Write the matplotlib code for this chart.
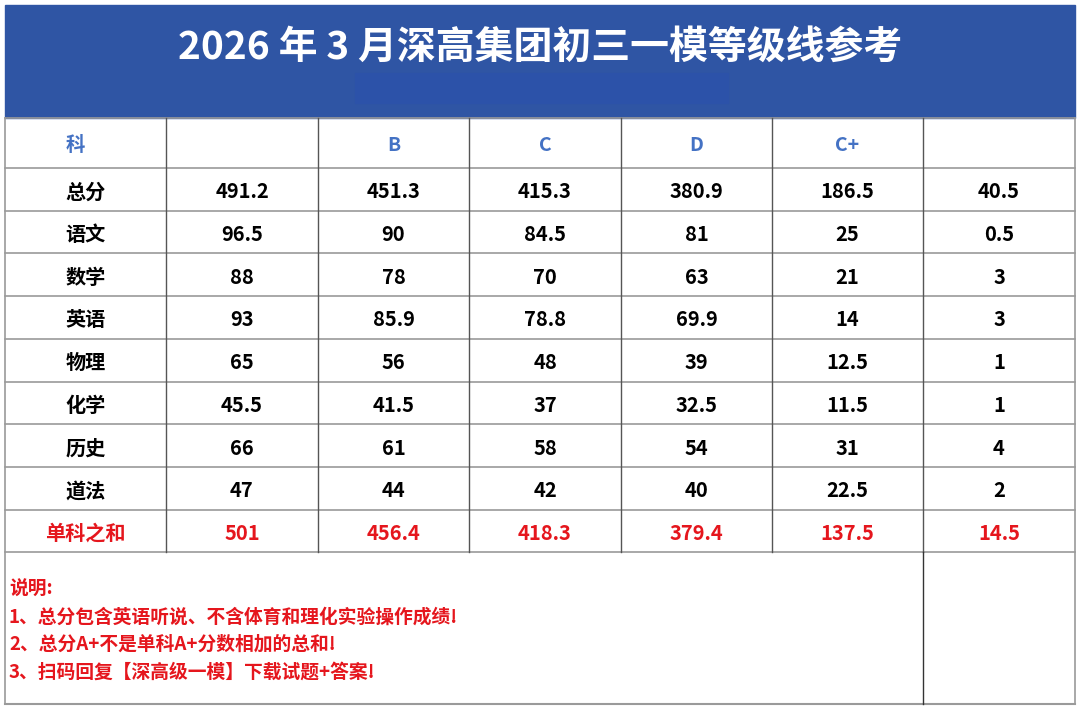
import matplotlib
matplotlib.use("Agg")
from matplotlib import pyplot as plt
from matplotlib.patches import Rectangle

plt.rcParams['font.family'] = ['Noto Sans CJK SC', 'DejaVu Sans']

# table data
title = "2026 年 3 月深高集团初三一模等级线参考"
header = ["科", "", "B", "C", "D", "C+", ""]
subjects = ["总分", "语文", "数学", "英语", "物理", "化学", "历史", "道法"]
col_1 = [491.2, 96.5, 88, 93, 65, 45.5, 66, 47]
col_2 = [451.3, 90, 78, 85.9, 56, 41.5, 61, 44]
col_3 = [415.3, 84.5, 70, 78.8, 48, 37, 58, 42]
col_4 = [380.9, 81, 63, 69.9, 39, 32.5, 54, 40]
col_5 = [186.5, 25, 21, 14, 12.5, 11.5, 31, 22.5]
col_6 = [40.5, 0.5, 3, 3, 1, 1, 4, 2]
sum_label = "单科之和"
sum_row = [501, 456.4, 418.3, 379.4, 137.5, 14.5]
notes = [
    "说明:",
    "1、总分包含英语听说、不含体育和理化实验操作成绩!",
    "2、总分A+不是单科A+分数相加的总和!",
    "3、扫码回复【深高级一模】下载试题+答案!",
]

BLUE = "#2F55A4"
HEAD_BLUE = "#4472C4"
RED = "#E5161D"

# layout in pixels
col_x = [5, 166, 318, 469, 621, 772, 923, 1075]
table_top = 118
header_h = 50
row_h = 42.7
n_rows = len(subjects) + 1
notes_bottom = 704
dy = 2.5  # CJK glyphs sit a bit high with va=center

fig = plt.figure(figsize=(10.8, 7.1), dpi=100)
ax = fig.add_axes([0, 0, 1, 1])
ax.set_xlim(0, 1080)
ax.set_ylim(710, 0)
ax.axis("off")

# title banner
ax.add_patch(Rectangle((5, 5), 1070, table_top - 5, color=BLUE, zorder=1))
ax.add_patch(Rectangle((355, 73), 373, 30, color="#2C52A9", zorder=2))
ax.text(540, 45 + dy, title, color="white", fontsize=28, fontweight="bold",
        ha="center", va="center", zorder=3)

columns = [col_1, col_2, col_3, col_4, col_5, col_6]

def row_center(i):
    return table_top + header_h + row_h * (i + 0.5) + dy

# header row
for j, h in enumerate(header):
    cx = (col_x[j] + col_x[j + 1]) / 2
    if j == 0:
        cx = 75
    ax.text(cx, table_top + header_h / 2 + dy, h, color=HEAD_BLUE, fontsize=14,
            fontweight="bold", ha="center", va="center")

# body rows
for i, subj in enumerate(subjects):
    y = row_center(i)
    ax.text((col_x[0] + col_x[1]) / 2, y, subj, fontsize=14.5,
            fontweight="bold", ha="center", va="center", color="black")
    for j, col in enumerate(columns):
        cx = (col_x[j + 1] + col_x[j + 2]) / 2
        ax.text(cx, y, f"{col[i]:g}", fontsize=14.5, fontweight="bold",
                ha="center", va="center", color="black")

# sum row
y = row_center(len(subjects))
ax.text((col_x[0] + col_x[1]) / 2, y, sum_label, fontsize=14.5,
        fontweight="bold", ha="center", va="center", color=RED)
for j, v in enumerate(sum_row):
    cx = (col_x[j + 1] + col_x[j + 2]) / 2
    ax.text(cx, y, f"{v:g}", fontsize=14.5, fontweight="bold",
            ha="center", va="center", color=RED)

# grid lines
table_bottom = table_top + header_h + row_h * n_rows
row_lines = [table_top, table_top + header_h] + \
    [table_top + header_h + row_h * k for k in range(1, n_rows + 1)]
for yl in row_lines:
    ax.plot([5, 1075], [yl, yl], color="#9A9A9A", lw=1.2, zorder=4)
ax.plot([5, 1075], [notes_bottom, notes_bottom], color="#9A9A9A", lw=1.5, zorder=4)
for xl in col_x[1:-1]:
    ax.plot([xl, xl], [table_top, table_bottom], color="#555555", lw=1.0, zorder=4)
ax.plot([col_x[-2], col_x[-2]], [table_bottom, notes_bottom], color="#333333", lw=1.0, zorder=4)
ax.plot([5, 5], [table_top, notes_bottom], color="#9A9A9A", lw=1.2, zorder=4)
ax.plot([1075, 1075], [table_top, notes_bottom], color="#9A9A9A", lw=1.2, zorder=4)

# notes
for k, line in enumerate(notes):
    ax.text(9, 587 + k * 27.5 + dy, line, color=RED, fontsize=13.5,
            fontweight="bold", ha="left", va="center")

fig.savefig("out.png", dpi=100, facecolor="white")
